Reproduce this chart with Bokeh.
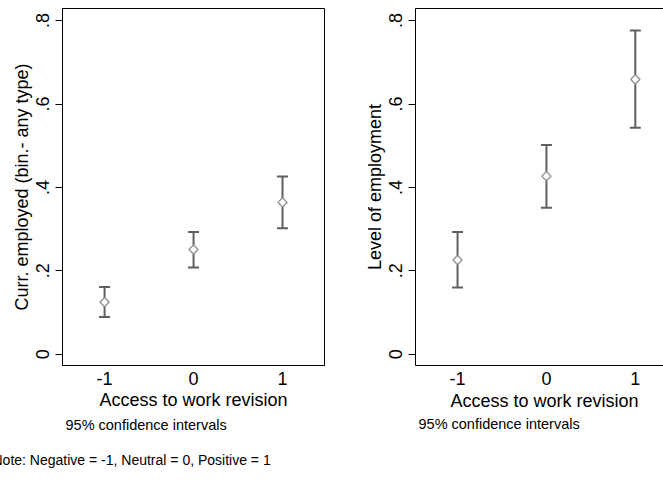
import math
from bokeh.plotting import figure
from bokeh.models import (ColumnDataSource, Whisker, TeeHead, FixedTicker,
                          LinearAxis, Title, Range1d)
from bokeh.layouts import row
from bokeh.embed import file_html
from bokeh.resources import INLINE

# Access-to-work revision categories
revision = [-1, 0, 1]
revision_labels = ["-1", "0", "1"]

# Currently employed (binary, any type): point estimates and 95% CI bounds
employed_mean = [0.125, 0.251, 0.364]
employed_lo = [0.089, 0.208, 0.302]
employed_hi = [0.161, 0.293, 0.426]

# Level of employment: point estimates and 95% CI bounds
level_mean = [0.226, 0.427, 0.659]
level_lo = [0.160, 0.351, 0.543]
level_hi = [0.293, 0.502, 0.776]

y_ticks = [0, 0.2, 0.4, 0.6, 0.8]
y_tick_labels = ["0", ".2", ".4", ".6", ".8"]

X_TITLE = "Access to work revision"
FONT = "Liberation Sans"
BAR_COLOR = "#5f5f5f"
MARK_COLOR = "#9a9a9a"


def make_panel(mean, lo, hi, ylabel, width, border_left, border_right,
               x_end, full_outline):
    p = figure(width=width, height=483, output_backend="svg",
               toolbar_location=None,
               x_range=Range1d(-1.473, x_end), y_range=Range1d(-0.027, 0.829),
               min_border_left=border_left, min_border_right=border_right,
               min_border_top=8, min_border_bottom=118)
    p.grid.visible = False
    p.background_fill_color = "white"
    p.border_fill_color = "white"
    xa = p.below[0]
    ya = p.left[0]

    src = ColumnDataSource(dict(x=revision, mean=mean, lo=lo, hi=hi))
    whisk = Whisker(source=src, base="x", upper="hi", lower="lo",
                    line_color=BAR_COLOR, line_width=2,
                    upper_head=TeeHead(size=11, line_color=BAR_COLOR, line_width=2),
                    lower_head=TeeHead(size=11, line_color=BAR_COLOR, line_width=2))
    p.add_layout(whisk)
    # hollow diamonds: squares turned by 45 degrees
    p.scatter("x", "mean", source=src, marker="square", size=6.5,
              angle=math.pi / 4, line_color=MARK_COLOR, line_width=1.5,
              fill_color="white")

    xa.ticker = FixedTicker(ticks=revision)
    xa.major_label_overrides = dict(zip(revision, revision_labels))
    xa.minor_tick_line_color = None
    xa.major_tick_out = 0
    xa.major_tick_in = 0
    xa.major_label_standoff = 6
    xa.axis_line_color = "black"

    ya.ticker = FixedTicker(ticks=y_ticks)
    ya.major_label_overrides = dict(zip(y_ticks, y_tick_labels))
    ya.major_label_orientation = "vertical"
    ya.minor_tick_line_color = None
    ya.major_tick_out = 7
    ya.major_tick_in = 0
    ya.major_tick_line_color = "black"
    ya.major_label_standoff = 6
    ya.axis_label = ylabel
    ya.axis_label_standoff = 2
    ya.axis_line_color = "black"

    for ax in (xa, ya):
        ax.major_label_text_font = FONT
        ax.major_label_text_font_size = "18px"
        ax.major_label_text_color = "black"
        ax.axis_label_text_font = FONT
        ax.axis_label_text_font_size = "18px"
        ax.axis_label_text_font_style = "normal"
        ax.axis_label_text_color = "black"

    if full_outline:
        p.outline_line_color = "black"
        p.outline_line_width = 1
        xa.axis_label = X_TITLE
        xa.axis_label_standoff = 2
    else:
        # frame runs past the page edge: draw only its top, left and bottom sides
        p.outline_line_color = None
        top = LinearAxis(ticker=FixedTicker(ticks=[]), axis_line_color="black",
                         major_tick_out=0, major_tick_in=0,
                         minor_tick_out=0, minor_tick_in=0,
                         major_label_standoff=0)
        p.add_layout(top, "above")
        # x title centred on the full (partly hidden) frame
        p.add_layout(Title(text=X_TITLE, align="left", offset=35, standoff=2,
                           text_font=FONT, text_font_size="18px",
                           text_font_style="normal", text_color="black"),
                     "below")

    p.add_layout(Title(text="95% confidence intervals", align="left",
                       offset=3, standoff=4, text_font=FONT,
                       text_font_size="14.5px", text_font_style="normal",
                       text_color="black"), "below")
    return p


left = make_panel(employed_mean, employed_lo, employed_hi,
                  "Curr. employed (bin.- any type)", 331, 62, 7, 1.472, True)
right = make_panel(level_mean, level_lo, level_hi,
                   "Level of employment", 332, 84, 0, 1.317, False)

# note under the left graph
left.add_layout(Title(text="Note: Negative = -1, Neutral = 0, Positive = 1",
                      align="left", offset=-70, standoff=30, text_font=FONT,
                      text_font_size="14px", text_font_style="normal",
                      text_color="black"), "below")

layout = row(left, right, spacing=0)
open("out.html", "w").write(file_html(layout, INLINE))
